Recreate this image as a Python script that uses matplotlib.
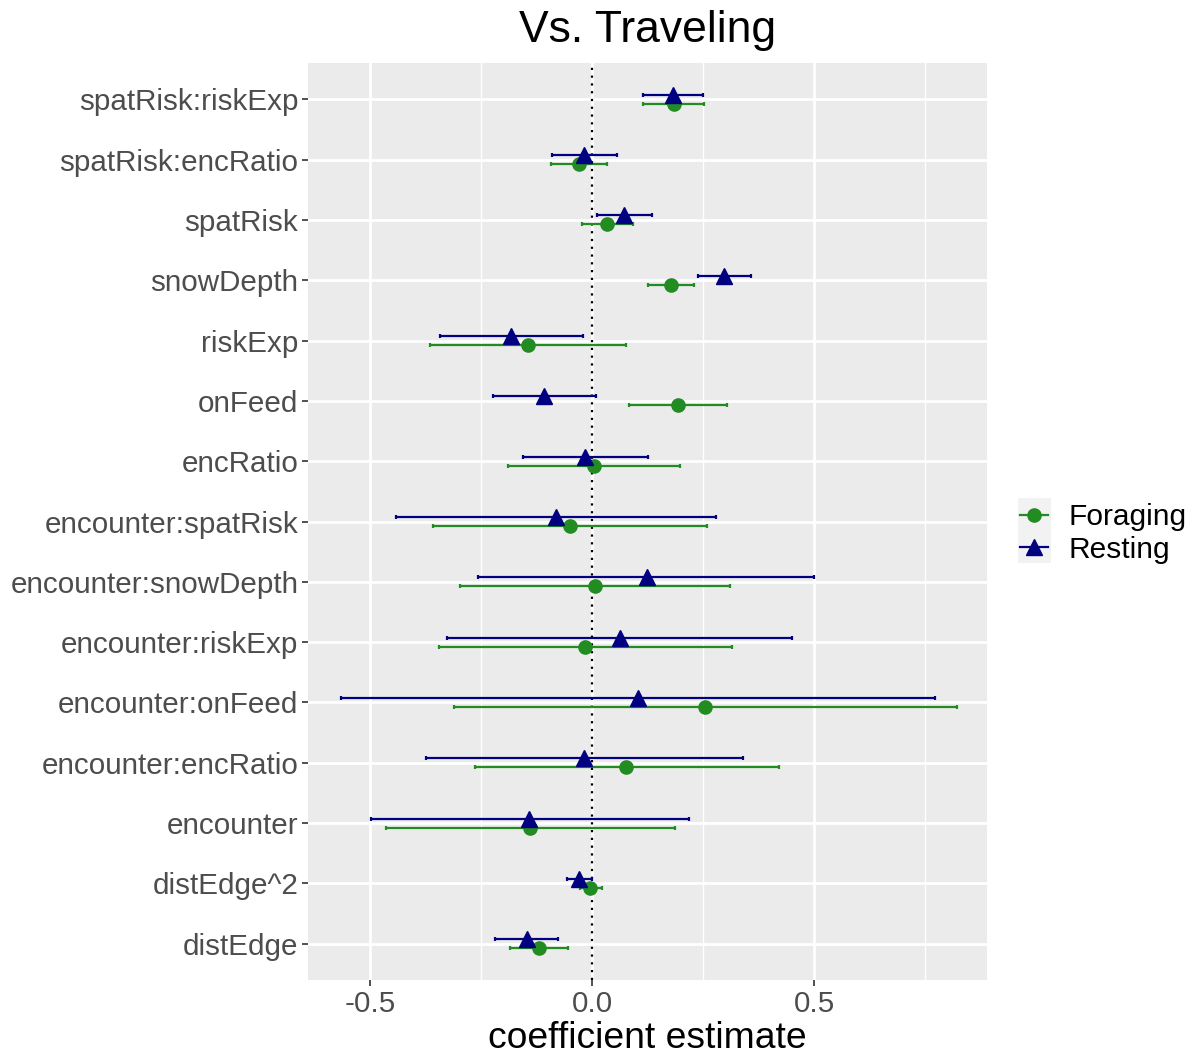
import numpy as np
import matplotlib.pyplot as plt
from matplotlib.lines import Line2D
from matplotlib.patches import Rectangle

plt.rcParams['font.family'] = ['Liberation Sans', 'DejaVu Sans']

# bottom to top, as on the y axis
terms = ['distEdge', 'distEdge^2', 'encounter', 'encounter:encRatio',
         'encounter:onFeed', 'encounter:riskExp', 'encounter:snowDepth',
         'encounter:spatRisk', 'encRatio', 'onFeed', 'riskExp',
         'snowDepth', 'spatRisk', 'spatRisk:encRatio', 'spatRisk:riskExp']

forage_est = [-0.120, -0.004, -0.140, 0.077, 0.255, -0.015, 0.007,
              -0.049, 0.004, 0.194, -0.144, 0.177, 0.034, -0.029, 0.184]
forage_lo = [-0.184, -0.027, -0.465, -0.264, -0.311, -0.344, -0.297,
             -0.358, -0.189, 0.084, -0.364, 0.127, -0.023, -0.093, 0.115]
forage_hi = [-0.054, 0.023, 0.187, 0.421, 0.822, 0.316, 0.311,
             0.259, 0.198, 0.304, 0.077, 0.229, 0.093, 0.034, 0.252]

rest_est = [-0.147, -0.030, -0.141, -0.018, 0.104, 0.062, 0.123,
            -0.081, -0.016, -0.107, -0.182, 0.297, 0.073, -0.017, 0.182]
rest_lo = [-0.218, -0.057, -0.497, -0.374, -0.566, -0.327, -0.257,
           -0.441, -0.155, -0.223, -0.342, 0.238, 0.011, -0.089, 0.115]
rest_hi = [-0.076, 0.000, 0.219, 0.341, 0.773, 0.451, 0.501,
           0.279, 0.127, 0.010, -0.020, 0.359, 0.136, 0.057, 0.250]

green = '#228B22'
navy = '#000080'

fig = plt.figure(figsize=(11.96, 10.55), dpi=100)
ax = fig.add_axes([308 / 1196, 1 - 980 / 1055, 679 / 1196, 917 / 1055])
ax.set_facecolor('#EBEBEB')

y = np.arange(1, len(terms) + 1)
dodge = 0.075

def draw(est, lo, hi, yy, color, marker, ms):
    est = np.array(est)
    err = [est - np.array(lo), np.array(hi) - est]
    ax.errorbar(est, yy, xerr=err, fmt='none', ecolor=color, elinewidth=1.6,
                capsize=1.5, capthick=1.6, zorder=3)
    ax.plot(est, yy, linestyle='none', marker=marker, color=color,
            markersize=ms, zorder=4)

draw(forage_est, forage_lo, forage_hi, y - dodge, green, 'o', 9.5)
draw(rest_est, rest_lo, rest_hi, y + dodge, navy, '^', 11.5)

ax.axvline(0, color='black', linestyle=(0, (1, 2.5)), linewidth=1.6, zorder=2)

ax.set_xlim(-0.6396, 0.8896)
ax.set_ylim(0.4, len(terms) + 0.6)
ax.set_xticks([-0.5, 0.0, 0.5])
ax.set_xticklabels(['-0.5', '0.0', '0.5'])
ax.set_xticks([-0.25, 0.25, 0.75], minor=True)
ax.set_yticks(y)
ax.set_yticklabels(terms)

ax.grid(which='major', color='white', linewidth=2, zorder=0)
ax.grid(which='minor', axis='x', color='white', linewidth=1, zorder=0)
ax.set_axisbelow(True)
for s in ax.spines.values():
    s.set_visible(False)

ax.tick_params(axis='both', which='major', length=4, width=1.2,
               color='#333333', labelcolor='#4D4D4D', labelsize=21.3, pad=3)
ax.tick_params(axis='both', which='minor', length=0)

ax.set_xlabel('coefficient estimate', fontsize=26.8, color='black', labelpad=2)
ax.set_title('Vs. Traveling', fontsize=32, color='black', pad=15)

# legend
fig.patches.append(Rectangle((1018 / 1196, 1 - 563 / 1055), 33 / 1196, 65 / 1055,
                             transform=fig.transFigure, facecolor='#F2F2F2',
                             edgecolor='none', zorder=0))
handles = [Line2D([], [], color=green, marker='o', markersize=9.5, linewidth=1.6),
           Line2D([], [], color=navy, marker='^', markersize=11.5, linewidth=1.6)]
fig.legend(handles, ['Foraging', 'Resting'], loc='center left',
           bbox_to_anchor=(1020 / 1196, 1 - 533.5 / 1055), frameon=False,
           fontsize=21.5, handlelength=0.95, handletextpad=0.68,
           labelspacing=0.15, borderpad=0, borderaxespad=0)

fig.savefig('out.png', dpi=100)
